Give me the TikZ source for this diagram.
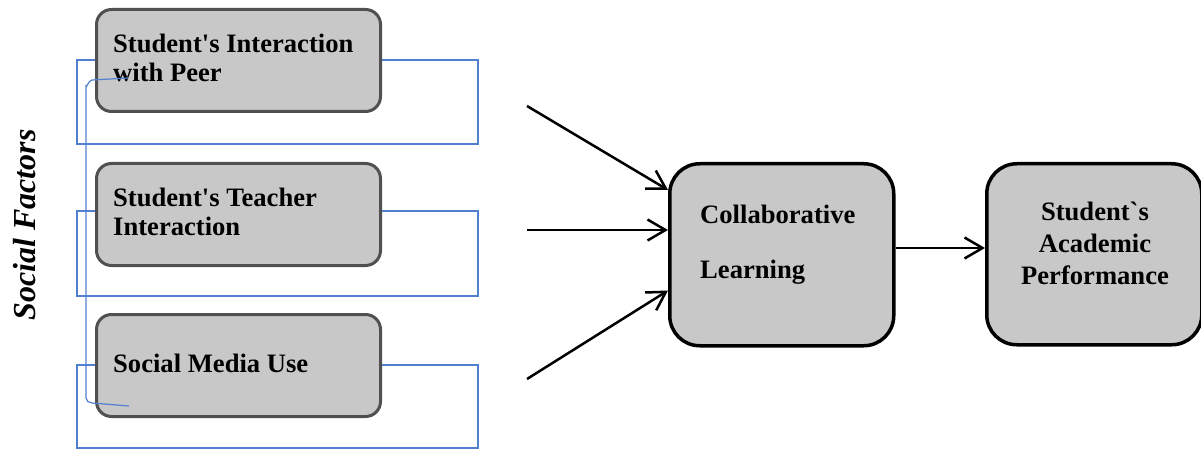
\documentclass[tikz,border=0pt]{standalone}
\usepackage{fontspec}
\setmainfont{Liberation Serif}[Ligatures=TeXOff]
\usetikzlibrary{arrows.meta}
\definecolor{boxfill}{RGB}{200,200,200}
\definecolor{boxrim}{RGB}{80,80,80}
\definecolor{guide}{RGB}{82,128,208}

\begin{document}
\begin{tikzpicture}[x=1pt,y=-1pt,
  factor/.style={draw=boxrim, line width=3pt, fill=boxfill, rounded corners=15pt,
    minimum width=284pt, minimum height=102pt, inner sep=0pt, anchor=north west},
  stage/.style={draw=black, line width=3.5pt, fill=boxfill, rounded corners=30pt,
    inner sep=0pt, anchor=north west},
  txt/.style={font=\fontsize{26.6}{29}\selectfont\bfseries, inner sep=0pt, align=left},
  guideline/.style={draw=guide, line width=1.2pt},
  flow/.style={line width=2.5pt, -{Straight Barb[length=18pt,width=21pt]}}
]
\useasboundingbox (0,0) rectangle (1201,449);

% thin blue frames behind the factor boxes
\draw[guideline] (77,60) rectangle (478,144);
\draw[guideline] (77,211) rectangle (478,296);
\draw[guideline] (77,365) rectangle (478,448);

% the three social factors (text nodes are placed by the baseline of their last line)
\node[factor] (peer) at (95,8) {};
\node[factor] (teach) at (95,162) {};
\node[factor] (media) at (95,313) {};
\node[txt, anchor=base west] (peerT) at (113,82) {Student's Interaction\\with Peer};
\node[txt, anchor=base west] (teachT) at (113,235) {Student's Teacher\\Interaction};
\node[txt, anchor=base west] (mediaT) at (113,372) {Social Media Use};

% bracket joining the factors
\draw[guideline] (128,78) -- (92,80) to[out=180,in=-90] (86,86) -- (86,398)
  to[out=-90,in=180] (92,403) -- (129,406);

% group label
\node[font=\fontsize{32}{36}\selectfont\bfseries\itshape, rotate=90, inner sep=0pt]
  (group) at (25,225) {Social Factors};

% mediator and outcome
\node[stage, minimum width=224pt, minimum height=182pt] (collab) at (668,162) {};
\node[txt, font=\fontsize{26.6}{55}\selectfont\bfseries, anchor=base west]
  (collabT) at (700,278) {Collaborative\\Learning};
\node[stage, minimum width=215pt, minimum height=181pt] (perf) at (985,162) {};
\node[txt, font=\fontsize{26.6}{32}\selectfont\bfseries, align=center, anchor=base]
  (perfT) at (1095,284) {Student`s\\Academic\\Performance};

% arrows
\coordinate (s1) at (527,106);
\coordinate (s2) at (527,230);
\coordinate (s3) at (527,379);
\draw[flow] (s1) -- ([yshift=-28pt]collab.north west);
\draw[flow] (s2) -- (s2 -| collab.west);
\draw[flow] (s3) -- ([yshift=57pt]collab.south west);
\draw[flow] (collab.east |- 0,248) -- (perf.west |- 0,248);
\end{tikzpicture}
\end{document}
